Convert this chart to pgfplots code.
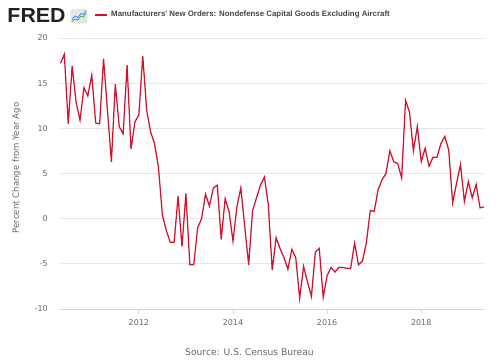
\documentclass[border=0pt]{standalone}
\usepackage{fontspec}
\setmainfont{DejaVu Sans}
\newfontfamily\titlefont{Liberation Sans}
\usepackage{pgfplots}
\pgfplotsset{compat=1.18}
\definecolor{fredred}{HTML}{D3122E}
\definecolor{gridc}{HTML}{E6E6E6}
\definecolor{axisc}{HTML}{CCD6EB}
\definecolor{labc}{HTML}{666666}
\definecolor{titc}{HTML}{444444}
\begin{document}
\begin{tikzpicture}
\useasboundingbox (0,0) rectangle (500bp,360bp);
\begin{axis}[
  at={(60bp,51bp)}, anchor=south west,
  scale only axis, width=424bp, height=271bp,
  xmin=3.9, xmax=112, ymin=-10, ymax=20,
  axis x line*=bottom, axis y line*=left,
  y axis line style={draw=none},
  x axis line style={draw=axisc, line width=0.8bp},
  xtick={24,48,72,96}, xticklabels={2012,2014,2016,2018},
  ytick={-10,-5,0,5,10,15,20}, yticklabels={-10,-5,0,5,10,15,20},
  tick align=outside, major tick length=5bp,
  xtick style={draw=axisc, line width=0.8bp},
  ytick style={draw=none},
  ymajorgrids, major grid style={draw=gridc, line width=0.8bp},
  extra y ticks={0}, extra y tick labels={},
  extra y tick style={grid style={draw=black, line width=1.3bp}},
  xticklabel style={font=\fontsize{8}{9.6}\selectfont, text=labc, anchor=north, inner sep=0pt, yshift=-5bp},
  yticklabel style={font=\fontsize{8}{9.6}\selectfont, text=labc, anchor=east, inner sep=0pt, xshift=-7bp},
]
\addplot[fredred, line width=1.25bp, mark=none] coordinates {
(4,17.2) (5,18.2) (6,10.5) (7,16.9) (8,12.9) (9,10.9) (10,14.5) (11,13.6)
(12,15.9) (13,10.6) (14,10.5) (15,17.7) (16,12.0) (17,6.3) (18,14.9) (19,10.2)
(20,9.4) (21,17.0) (22,7.7) (23,10.7) (24,11.5) (25,18.0) (26,12.0) (27,9.6)
(28,8.3) (29,5.7) (30,0.4) (31,-1.3) (32,-2.6) (33,-2.6) (34,2.5) (35,-3.1)
(36,2.8) (37,-5.1) (38,-5.1) (39,-1.0) (40,0.0) (41,2.7) (42,1.4) (43,3.4)
(44,3.7) (45,-2.3) (46,2.2) (47,0.8) (48,-2.5) (49,1.3) (50,3.4) (51,-0.9)
(52,-5.1) (53,0.9) (54,2.3) (55,3.7) (56,4.6) (57,1.6) (58,-5.7) (59,-2.1)
(60,-3.3) (61,-4.3) (62,-5.6) (63,-3.4) (64,-4.3) (65,-8.8) (66,-5.3) (67,-7.0)
(68,-8.6) (69,-3.7) (70,-3.3) (71,-8.7) (72,-6.3) (73,-5.4) (74,-5.9) (75,-5.4)
(76,-5.4) (77,-5.5) (78,-5.5) (79,-2.7) (80,-5.1) (81,-4.7) (82,-2.7) (83,0.9)
(84,0.8) (85,3.2) (86,4.3) (87,5.0) (88,7.5) (89,6.3) (90,6.1) (91,4.5)
(92,13.1) (93,11.8) (94,7.5) (95,10.2) (96,6.3) (97,7.8) (98,5.8) (99,6.8)
(100,6.8) (101,8.3) (102,9.1) (103,7.6) (104,1.75) (105,3.9) (106,6.0) (107,1.9)
(108,4.1) (109,2.3) (110,3.8) (111,1.2) (112,1.3)
};
\end{axis}
% header
\node[inner sep=0pt, text=black!87] at (36.5bp,344bp) {\resizebox{58bp}{14bp}{\titlefont\bfseries FRED}};
\fill[black!10, rounded corners=1.5bp] (70.7bp,336.7bp) rectangle (87.3bp,351bp);
\draw[green!50!black!70, line width=0.7bp] (72bp,338.5bp) -- (75bp,341bp) -- (78bp,340bp) -- (81bp,344bp) -- (83.5bp,343bp) -- (86bp,347bp);
\draw[blue!60!cyan!80, line width=0.7bp] (72bp,340.5bp) -- (75bp,344bp) -- (78bp,342.5bp) -- (81bp,346.5bp) -- (83.5bp,345.5bp) -- (86bp,349.5bp);
\draw[fredred, line width=2bp] (95bp,345.3bp) -- (106.7bp,345.3bp);
\node[anchor=west, inner sep=0pt, text=titc] at (111bp,345.3bp) {\titlefont\bfseries\fontsize{7.9}{9}\selectfont Manufacturers' New Orders: Nondefense Capital Goods Excluding Aircraft};
% axis label and source
\node[rotate=90, inner sep=0pt, text=labc] at (16.5bp,192bp) {\fontsize{8.6}{10}\selectfont Percent Change from Year Ago};
\node[inner sep=0pt, text=labc] at (249.5bp,7.7bp) {\fontsize{9.2}{11}\selectfont Source: U.S. Census Bureau};
\end{tikzpicture}
\end{document}
